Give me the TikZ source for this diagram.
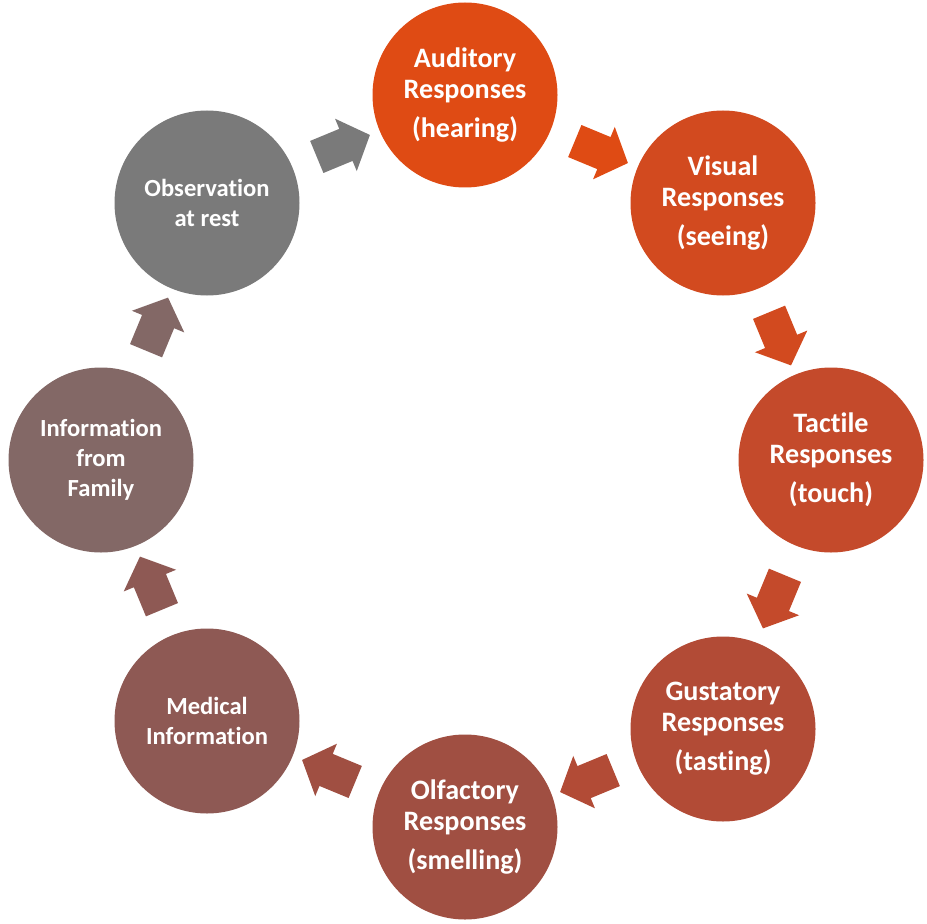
\documentclass[tikz,border=0pt]{standalone}
\usepackage{fontspec}
\setmainfont[Ligatures=NoCommon]{Carlito}
\usetikzlibrary{calc}
\usetikzlibrary{shapes.arrows}

\definecolor{audcol}{HTML}{DF4B14}
\definecolor{viscol}{HTML}{D24A1F}
\definecolor{taccol}{HTML}{C44A2B}
\definecolor{guscol}{HTML}{B24B36}
\definecolor{olfcol}{HTML}{A04F42}
\definecolor{medcol}{HTML}{8E5954}
\definecolor{infcol}{HTML}{836866}
\definecolor{obscol}{HTML}{7A7A7A}

\tikzset{
    sense/.style = {circle,minimum size=3.7cm,inner sep=0pt,text=white,
        align=center,font=\bfseries\fontsize{16}{17.5}\selectfont},
    small/.style = {font=\bfseries\fontsize{14}{17}\selectfont},
    turn/.style = {single arrow,draw=none,minimum height=1.15cm,inner sep=0.34cm,
        single arrow head extend=0.22cm,single arrow tip angle=95}
}

\begin{document}
\begin{tikzpicture}
        \useasboundingbox (0,0) rectangle (18.54,18.46);
        %   \draw [help lines] (0,0) grid (18,18);

        \node [sense,fill=audcol] (aud) at (9.30,16.56) {Auditory\\Responses\\[5pt](hearing)};
        \node [sense,fill=viscol] (vis) at (14.46,14.40) {Visual\\Responses\\[5pt](seeing)};
        \node [sense,fill=taccol] (tac) at (16.62,9.26) {Tactile\\Responses\\[5pt](touch)};
        \node [sense,fill=guscol] (gus) at (14.46,3.88) {Gustatory\\Responses\\[5pt](tasting)};
        \node [sense,fill=olfcol] (olf) at (9.30,1.92) {Olfactory\\Responses\\[5pt](smelling)};
        \node [sense,small,fill=medcol] (med) at (4.14,4.04) {Medical\\Information};
        \node [sense,small,fill=infcol] (inf) at (2.02,9.26) {Information\\from\\Family};
        \node [sense,small,fill=obscol] (obs) at (4.14,14.40) {Observation\\at rest};

        % arrows half way between the circles
        \node [turn,fill=obscol,rotate=22.5] (a1) at ($(obs)!0.5!(aud)$) {};
        \node [turn,fill=audcol,rotate=-22.5] (a2) at ($(aud)!0.5!(vis)$) {};
        \node [turn,fill=viscol,rotate=-67.5] (a3) at ($(vis)!0.5!(tac)$) {};
        \node [turn,fill=taccol,rotate=-112.5] (a4) at ($(tac)!0.5!(gus)$) {};
        \node [turn,fill=guscol,rotate=-157.5] (a5) at ($(gus)!0.5!(olf)$) {};
        \node [turn,fill=olfcol,rotate=157.5] (a6) at ($(olf)!0.5!(med)$) {};
        \node [turn,fill=medcol,rotate=112.5] (a7) at ($(med)!0.5!(inf)$) {};
        \node [turn,fill=infcol,rotate=67.5] (a8) at ($(inf)!0.5!(obs)$) {};
\end{tikzpicture}
\end{document}
